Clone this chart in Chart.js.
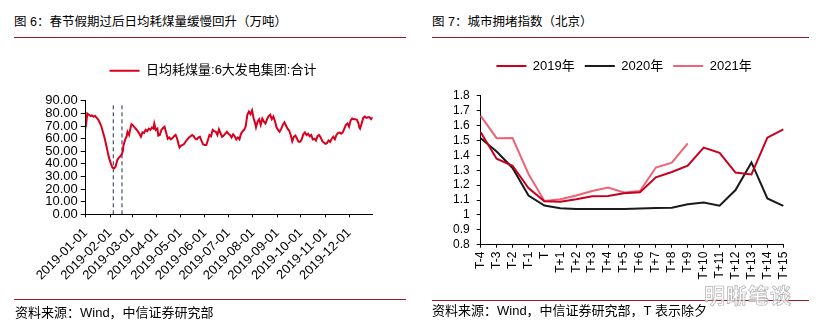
<!DOCTYPE html>
<html>
<head>
<meta charset="utf-8">
<script src="https://cdn.jsdelivr.net/npm/chart.js@4.4.1/dist/chart.umd.min.js"></script>
<style>
  html, body { margin: 0; padding: 0; background: #fff; }
  body { width: 816px; height: 328px; position: relative; overflow: hidden;
         font-family: 'Liberation Sans', 'Noto Sans CJK SC', sans-serif; color: #000; }
  .title { position: absolute; top: 14px; font-size: 12.5px; line-height: 16px; white-space: nowrap; }
  .rule { position: absolute; height: 1px; background: #a0182a; }
  .source { position: absolute; font-size: 13px; line-height: 16px; white-space: nowrap; }
  canvas { position: absolute; }
  .mark { position: absolute; left: 704px; top: 279px; font-size: 21px; font-weight: bold;
          font-family: 'Noto Sans CJK SC', sans-serif; color: rgba(255,255,255,0.7);
          -webkit-text-stroke: 0.7px #b0b0b0; letter-spacing: 1px; white-space: nowrap; }
</style>
</head>
<body>
<div class="title" style="left:14px;">图 6：春节假期过后日均耗煤量缓慢回升（万吨）</div>
<div class="rule" style="left:14px; width:392px; top:37px;"></div>
<div class="title" style="left:432px;">图 7：城市拥堵指数（北京）</div>
<div class="rule" style="left:432px; width:377px; top:37px;"></div>

<canvas id="coal" width="408" height="250" style="left:0; top:50px;"></canvas>
<canvas id="traffic" width="406" height="260" style="left:410px; top:40px;"></canvas>

<div class="rule" style="left:14px; width:392px; top:299px;"></div>
<div class="source" style="left:15px; top:305px;">资料来源：Wind，中信证券研究部</div>
<div class="rule" style="left:432px; width:377px; top:300px;"></div>
<div class="source" style="left:432px; top:303px;">资料来源：Wind，中信证券研究部，T 表示除夕</div>
<div class="mark">明晰笔谈</div>

<script>
// ---- Daily coal consumption of the six major power groups, 2019 (10k tonnes)
const coalDates = [
  '2019-01-01','2019-01-02','2019-01-03','2019-01-05','2019-01-07','2019-01-09','2019-01-11','2019-01-13',
  '2019-01-15','2019-01-17','2019-01-19','2019-01-21','2019-01-23','2019-01-25','2019-01-27','2019-01-29',
  '2019-01-31','2019-02-02','2019-02-04','2019-02-06','2019-02-08','2019-02-10','2019-02-12','2019-02-14',
  '2019-02-16','2019-02-17','2019-02-18','2019-02-20','2019-02-22','2019-02-23','2019-02-25','2019-02-27',
  '2019-02-28','2019-03-02','2019-03-04','2019-03-06','2019-03-08','2019-03-10','2019-03-12','2019-03-14',
  '2019-03-16','2019-03-18','2019-03-20','2019-03-22','2019-03-24','2019-03-26','2019-03-28','2019-03-29',
  '2019-03-31','2019-04-02','2019-04-03','2019-04-05','2019-04-07','2019-04-09','2019-04-11','2019-04-13',
  '2019-04-15','2019-04-17','2019-04-19','2019-04-21','2019-04-23','2019-04-25','2019-04-27','2019-04-29',
  '2019-04-30','2019-05-02','2019-05-04','2019-05-06','2019-05-08','2019-05-10','2019-05-12','2019-05-14',
  '2019-05-16','2019-05-18','2019-05-20','2019-05-22','2019-05-24','2019-05-26','2019-05-28','2019-05-30',
  '2019-06-01','2019-06-03','2019-06-05','2019-06-07','2019-06-09','2019-06-11','2019-06-13','2019-06-15',
  '2019-06-17','2019-06-19','2019-06-21','2019-06-23','2019-06-25','2019-06-27','2019-06-29','2019-07-01',
  '2019-07-03','2019-07-05','2019-07-07','2019-07-09','2019-07-11','2019-07-13','2019-07-15','2019-07-17',
  '2019-07-19','2019-07-21','2019-07-23','2019-07-25','2019-07-27','2019-07-29','2019-07-31','2019-08-02',
  '2019-08-04','2019-08-05','2019-08-07','2019-08-09','2019-08-11','2019-08-13','2019-08-15','2019-08-17',
  '2019-08-19','2019-08-21','2019-08-23','2019-08-25','2019-08-27','2019-08-29','2019-08-31','2019-09-02',
  '2019-09-04','2019-09-06','2019-09-08','2019-09-10','2019-09-12','2019-09-14','2019-09-16','2019-09-18',
  '2019-09-20','2019-09-22','2019-09-24','2019-09-26','2019-09-28','2019-09-30','2019-10-02','2019-10-04',
  '2019-10-06','2019-10-08','2019-10-10','2019-10-12','2019-10-14','2019-10-16','2019-10-18','2019-10-20',
  '2019-10-22','2019-10-24','2019-10-26','2019-10-28','2019-10-30','2019-11-01','2019-11-03','2019-11-05',
  '2019-11-07','2019-11-09','2019-11-11','2019-11-13','2019-11-15','2019-11-17','2019-11-19','2019-11-21',
  '2019-11-23','2019-11-25','2019-11-27','2019-11-29','2019-12-01','2019-12-03','2019-12-05','2019-12-07',
  '2019-12-09','2019-12-11','2019-12-13','2019-12-14','2019-12-15','2019-12-17','2019-12-19','2019-12-21',
  '2019-12-23','2019-12-25','2019-12-27','2019-12-29','2019-12-31'
];
const coalValues = [
  79, 74, 80, 79, 78, 78.5, 77.5, 78,
  76.5, 75, 72.5, 69.5, 65, 60.5, 55, 49,
  44, 40, 37, 36.5, 38, 43, 45, 46,
  48, 50, 55, 59, 62, 65.5, 63, 69,
  71.5, 70.5, 69, 67.5, 66, 64, 61.5, 65,
  64.5, 67, 66, 68, 67, 69, 68, 72,
  67, 68, 62.5, 63, 67, 68.5, 69.5, 65,
  60, 61, 59.5, 60.5, 62, 63, 60, 55,
  53, 54.5, 55, 56, 58, 59.5, 61, 62,
  63, 62, 60, 59.5, 61, 61.5, 58, 55.5,
  55, 55, 59, 63, 62, 67, 66, 65.5,
  63, 67.5, 64.5, 61.5, 62.5, 64, 65.5, 64,
  63, 61, 63.5, 62, 59.5, 61, 59.5, 64,
  66, 67, 70, 79, 81.5, 79.5, 82.5, 76,
  72, 69, 73.5, 75.5, 71, 76, 73.5, 72,
  75.5, 78, 79, 75.5, 77.5, 74, 69, 67,
  65.5, 68, 71, 73, 70.5, 68, 66.5, 63,
  58, 61.5, 62.5, 60, 57.5, 57.5, 59.5, 63.5,
  65, 63, 64, 62, 63, 59.5, 60, 58.5,
  62, 63, 61, 58, 57, 56, 56.5, 58.5,
  57.5, 60, 61.5, 59.5, 63, 64.5, 65, 64,
  65, 68, 71, 72, 69.5, 74.5, 76, 75.5,
  75.5, 75, 72, 69, 68, 72, 76.5, 77.5,
  76.5, 77, 77, 75.5, 77
];
// Holiday window markers: Spring Festival and end of the holiday
const holidayDates = ['2019-02-05', '2019-02-16'];
const holidayMarkTop = 88;
const monthTicks = ['2019-01-01','2019-02-01','2019-03-01','2019-04-01','2019-05-01','2019-06-01',
                    '2019-07-01','2019-08-01','2019-09-01','2019-10-01','2019-11-01','2019-12-01'];
const coalYTicks = { min: 0, max: 90, step: 10 };

// ---- Beijing congestion index around Chinese New Year's Eve (T)
const dayLabels = ['T-4','T-3','T-2','T-1','T','T+1','T+2','T+3','T+4','T+5','T+6','T+7','T+8','T+9',
                   'T+10','T+11','T+12','T+13','T+14','T+15'];
const idx2019 = [1.555,1.377,1.33,1.18,1.092,1.088,1.105,1.125,1.127,1.145,1.152,1.252,1.288,1.33,
                 1.452,1.417,1.284,1.272,1.518,1.574];
const idx2020 = [1.515,1.425,1.315,1.13,1.063,1.045,1.04,1.04,1.04,1.04,1.043,1.047,1.048,1.072,
                 1.083,1.062,1.167,1.352,1.11,1.06];
const idx2021 = [1.665,1.515,1.516,1.275,1.094,1.105,1.13,1.16,1.183,1.15,1.16,1.318,1.35,1.48,
                 null,null,null,null,null,null];

const FONT = "'Liberation Sans', 'Noto Sans CJK SC', sans-serif";
Chart.defaults.font.family = FONT;
Chart.defaults.color = '#000';

const dayOfYear = s => {
  const [y, m, d] = s.split('-').map(Number);
  return Math.round((Date.UTC(y, m - 1, d) - Date.UTC(y, 0, 1)) / 86400000);
};
const dateFromDay = n => {
  const t = new Date(Date.UTC(2019, 0, 1) + n * 86400000);
  return t.toISOString().slice(0, 10);
};

// legend row: extra gap below it, and horizontal centre at a given canvas x
const legendPlacement = (gap, centerX) => ({
  id: 'legendPlacement',
  beforeInit(chart) {
    const legend = chart.legend;
    const fit = legend.fit;
    legend.fit = function () { fit.call(this); this.height += gap; };
  },
  afterLayout(chart) {
    const legend = chart.legend;
    const w = legend.right - legend.left;
    legend.left = centerX - w / 2;
    legend.right = centerX + w / 2;
  }
});

const flatLegendLabels = chart =>
  Chart.defaults.plugins.legend.labels.generateLabels(chart)
    .map(l => Object.assign(l, { fillStyle: l.strokeStyle, lineWidth: 0 }));

const axisGrid = len => ({ drawOnChartArea: false, drawTicks: true, tickLength: len, color: '#000', lineWidth: 1 });
const axisBorder = { display: true, color: '#000', width: 1 };

// ---------- left: coal consumption ----------
const coalPoints = coalDates.map((d, i) => ({ x: dayOfYear(d), y: coalValues[i] }));
const markerSets = holidayDates.map(d => ({
  label: d,
  data: [{ x: dayOfYear(d), y: 0 }, { x: dayOfYear(d), y: holidayMarkTop }],
  borderColor: '#1f2f5c', backgroundColor: '#1f2f5c',
  borderWidth: 1, borderDash: [4, 3], pointRadius: 0, tension: 0
}));

new Chart(document.getElementById('coal'), {
  type: 'line',
  data: {
    datasets: [{
      label: '日均耗煤量:6大发电集团:合计',
      data: coalPoints,
      borderColor: '#d8001c', backgroundColor: '#d8001c',
      borderWidth: 2, pointRadius: 0, tension: 0
    }, ...markerSets]
  },
  plugins: [legendPlacement(13.7, 213)],
  options: {
    responsive: false, animation: false, devicePixelRatio: 1,
    layout: { padding: { left: 0, right: 35.3, top: 4.2, bottom: 0 } },
    plugins: {
      tooltip: { enabled: false },
      legend: {
        position: 'top',
        labels: {
          boxWidth: 30, boxHeight: 2, padding: 10,
          font: { size: 13, family: FONT },
          filter: item => item.datasetIndex === 0,
          generateLabels: flatLegendLabels
        }
      }
    },
    scales: {
      x: {
        type: 'linear', min: 0, max: 364,
        afterBuildTicks: s => { s.ticks = monthTicks.map(d => ({ value: dayOfYear(d) })); },
        afterFit: s => { s.height = 85.7; },
        ticks: {
          autoSkip: false, minRotation: 45, maxRotation: 45, padding: 8,
          font: { size: 13, family: FONT },
          callback: v => dateFromDay(v)
        },
        grid: axisGrid(3), border: axisBorder
      },
      y: {
        min: coalYTicks.min, max: coalYTicks.max,
        afterFit: s => { s.width = 85.7; },
        ticks: {
          stepSize: coalYTicks.step, autoSkip: false, padding: 3,
          font: { size: 13, family: FONT },
          callback: v => Number(v).toFixed(2)
        },
        grid: axisGrid(5), border: axisBorder
      }
    }
  }
});

// ---------- right: congestion index ----------
new Chart(document.getElementById('traffic'), {
  type: 'line',
  data: {
    labels: dayLabels,
    datasets: [
      { label: '2019年', data: idx2019, borderColor: '#c8001e', borderWidth: 2, pointRadius: 0, tension: 0 },
      { label: '2020年', data: idx2020, borderColor: '#1a1a1a', borderWidth: 2, pointRadius: 0, tension: 0 },
      { label: '2021年', data: idx2021, borderColor: '#ee6476', borderWidth: 2, pointRadius: 0, tension: 0 }
    ]
  },
  plugins: [legendPlacement(13.2, 214)],
  options: {
    responsive: false, animation: false, devicePixelRatio: 1,
    layout: { padding: { left: 0, right: 32.7, top: 9.5, bottom: 0 } },
    plugins: {
      tooltip: { enabled: false },
      legend: {
        position: 'top',
        labels: {
          boxWidth: 30, boxHeight: 2, padding: 10,
          font: { size: 13, family: FONT },
          generateLabels: flatLegendLabels
        }
      }
    },
    scales: {
      x: {
        type: 'category', offset: false,
        afterFit: s => { s.height = 55.3; },
        ticks: { autoSkip: false, minRotation: 90, maxRotation: 90, padding: 4, font: { size: 12, family: FONT } },
        grid: axisGrid(3), border: axisBorder
      },
      y: {
        min: 0.8, max: 1.8,
        afterFit: s => { s.width = 70.7; },
        ticks: {
          stepSize: 0.1, autoSkip: false, padding: 7,
          font: { size: 12, family: FONT },
          callback: v => String(Number(Number(v).toFixed(1)))
        },
        grid: axisGrid(4), border: axisBorder
      }
    }
  }
});
</script>
</body>
</html>
